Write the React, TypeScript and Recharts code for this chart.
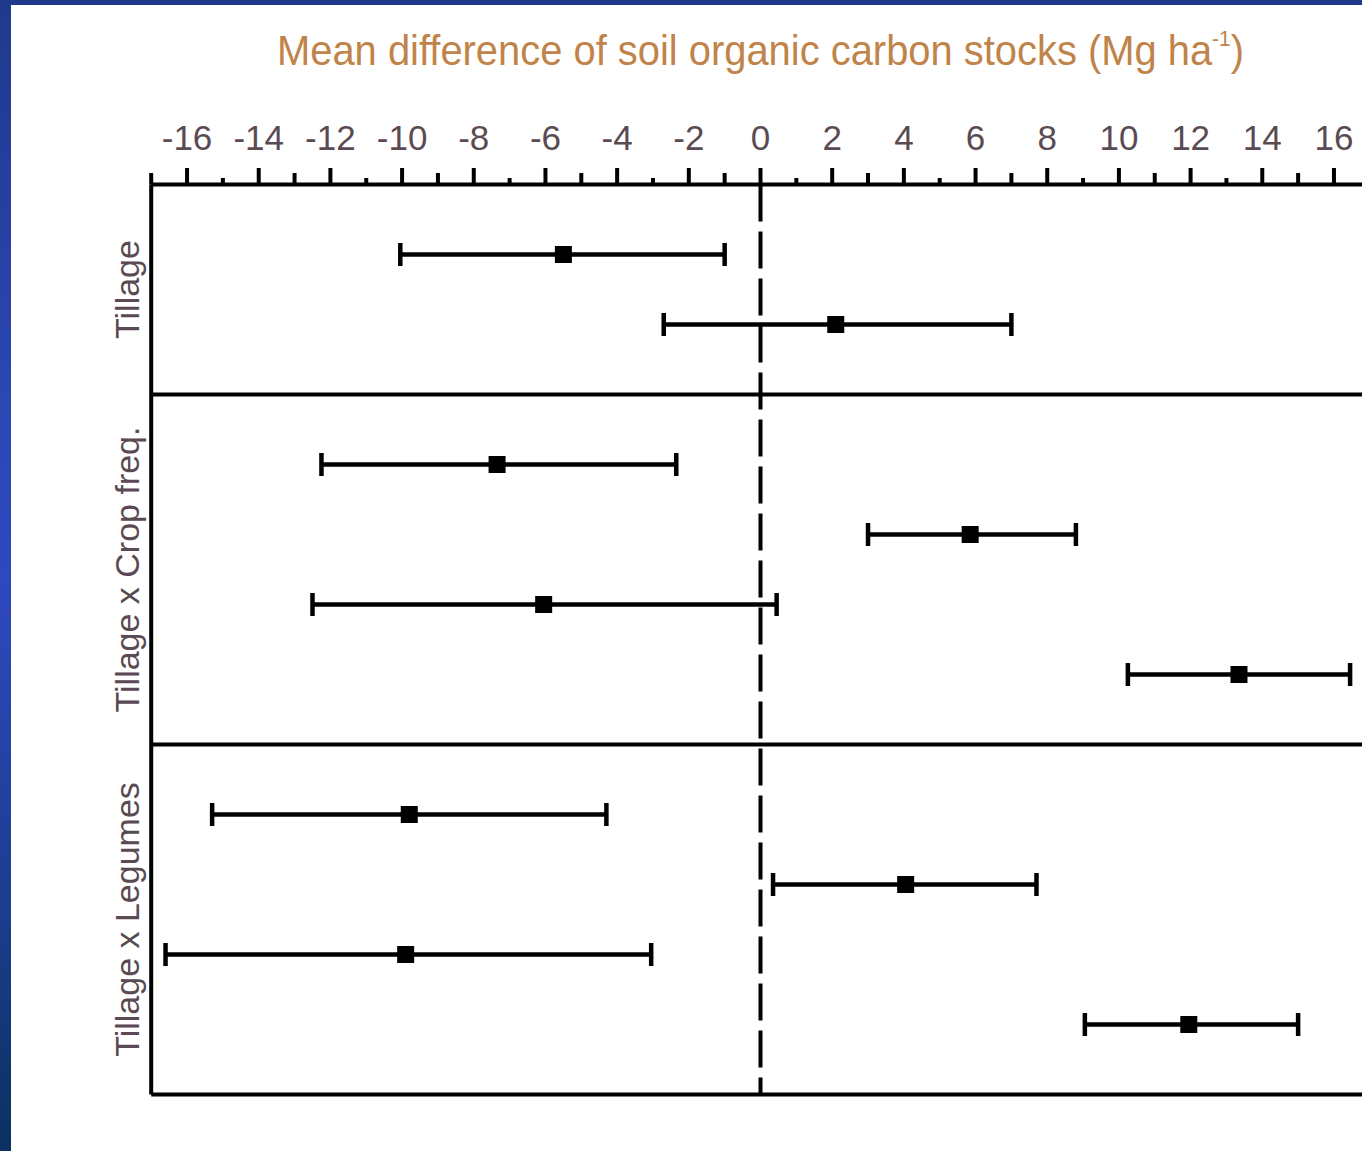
import { ComposedChart, Scatter, ErrorBar, XAxis, YAxis, ReferenceLine } from 'recharts'

// vertical slots: 0 = top of frame, 13 = bottom; groups separated at 3 and 8
const groups = ['Tillage', 'Tillage x Crop freq.', 'Tillage x Legumes']
const groupCenters = [1.5, 5.5, 10.5]
const dividers = [3, 8, 13]

const rowPos = [1, 2, 4, 5, 6, 7, 9, 10, 11, 12]
const means = [-5.5, 2.1, -7.35, 5.85, -6.05, 13.35, -9.8, 4.05, -9.9, 11.95]
const lows = [-10.05, -2.7, -12.25, 3.0, -12.5, 10.25, -15.3, 0.35, -16.6, 9.05]
const highs = [-1.0, 7.0, -2.35, 8.8, 0.45, 16.45, -4.3, 7.7, -3.05, 15.0]

const xTicks = [-17, -16, -15, -14, -13, -12, -11, -10, -9, -8, -7, -6, -5, -4, -3, -2, -1, 0,
  1, 2, 3, 4, 5, 6, 7, 8, 9, 10, 11, 12, 13, 14, 15, 16, 17]
const labelledTicks = [-16, -14, -12, -10, -8, -6, -4, -2, 0, 2, 4, 6, 8, 10, 12, 14, 16]

const data = rowPos.map((y, i) => ({
  y,
  mean: means[i],
  err: [means[i] - lows[i], highs[i] - means[i]],
}))

const textColor = '#5a4a52'
const titleColor = '#c0844a'
const font = '"Liberation Sans", Arial, sans-serif'

function TopTick({ x, y, payload }: any) {
  const v = payload.value
  const m = ((v % 4) + 4) % 4
  const len = m % 2 === 0 ? 16.5 : m === 3 ? 11.5 : 6.5
  return (
    <g>
      <line x1={x} x2={x} y1={y} y2={y - len} stroke="#000" strokeWidth={4} />
      {labelledTicks.includes(v) && (
        <text x={x} y={y - 34.5} textAnchor="middle" fontSize={35} fontFamily={font} fill={textColor}>
          {v}
        </text>
      )}
    </g>
  )
}

function GroupTick({ y, payload }: any) {
  const i = groupCenters.indexOf(payload.value)
  const lx = 139
  return (
    <text
      x={lx}
      y={y}
      transform={`rotate(-90 ${lx} ${y})`}
      textAnchor="middle"
      fontSize={34}
      fontFamily={font}
      fill={textColor}
    >
      {groups[i]}
    </text>
  )
}

function Square({ cx, cy }: any) {
  return <rect x={cx - 8.5} y={cy - 8.5} width={17} height={17} fill="#000" />
}

export default function App() {
  return (
    <div style={{ position: 'fixed', left: 0, top: 0, width: 1362, height: 1151, overflow: 'hidden', background: '#fff' }}>
      <div style={{ position: 'absolute', left: 0, top: 0, width: 1362, height: 5, background: '#1f3a8c' }} />
      <div
        style={{
          position: 'absolute', left: 0, top: 0, width: 11, height: 1151,
          background: 'linear-gradient(#1f3a8c 0%, #2c46b4 35%, #3048c0 50%, #1c3c8c 80%, #0c3060 100%)',
        }}
      />
      <svg style={{ position: 'absolute', left: 0, top: 0 }} width={1362} height={100}>
        <text x={277} y={65} fontSize={42} fontFamily={font} fill={titleColor} textLength={967} lengthAdjust="spacingAndGlyphs">
          Mean difference of soil organic carbon stocks (Mg ha
          <tspan dy={-19} fontSize={22}>-1</tspan>
          <tspan dy={19} fontSize={42}>)</tspan>
        </text>
      </svg>
      <div style={{ position: 'absolute', left: 0, top: 0 }}>
        <ComposedChart
          width={1400}
          height={1151}
          data={data}
          margin={{ top: 144.5, right: 30.2, bottom: 56.5, left: 51.2 }}
        >
          <XAxis
            type="number"
            dataKey="mean"
            orientation="top"
            domain={[-17, 17]}
            ticks={xTicks}
            interval={0}
            height={40}
            tickSize={0}
            tickMargin={0}
            tickLine={false}
            axisLine={{ stroke: '#000', strokeWidth: 4 }}
            tick={<TopTick />}
          />
          <YAxis
            type="number"
            dataKey="y"
            domain={[0, 13]}
            reversed
            width={100}
            ticks={groupCenters}
            interval={0}
            axisLine={false}
            tickLine={false}
            tick={<GroupTick />}
          />
          <ReferenceLine x={-17} stroke="#000" strokeWidth={4} />
          <ReferenceLine x={0} stroke="#000" strokeWidth={4} strokeDasharray="37 10" />
          {dividers.map((d) => (
            <ReferenceLine key={d} y={d} stroke="#000" strokeWidth={4} />
          ))}
          <Scatter dataKey="y" fill="#000" shape={<Square />} isAnimationActive={false}>
            <ErrorBar dataKey="err" direction="x" width={11.5} stroke="#000" strokeWidth={4.5} />
          </Scatter>
        </ComposedChart>
      </div>
    </div>
  )
}
